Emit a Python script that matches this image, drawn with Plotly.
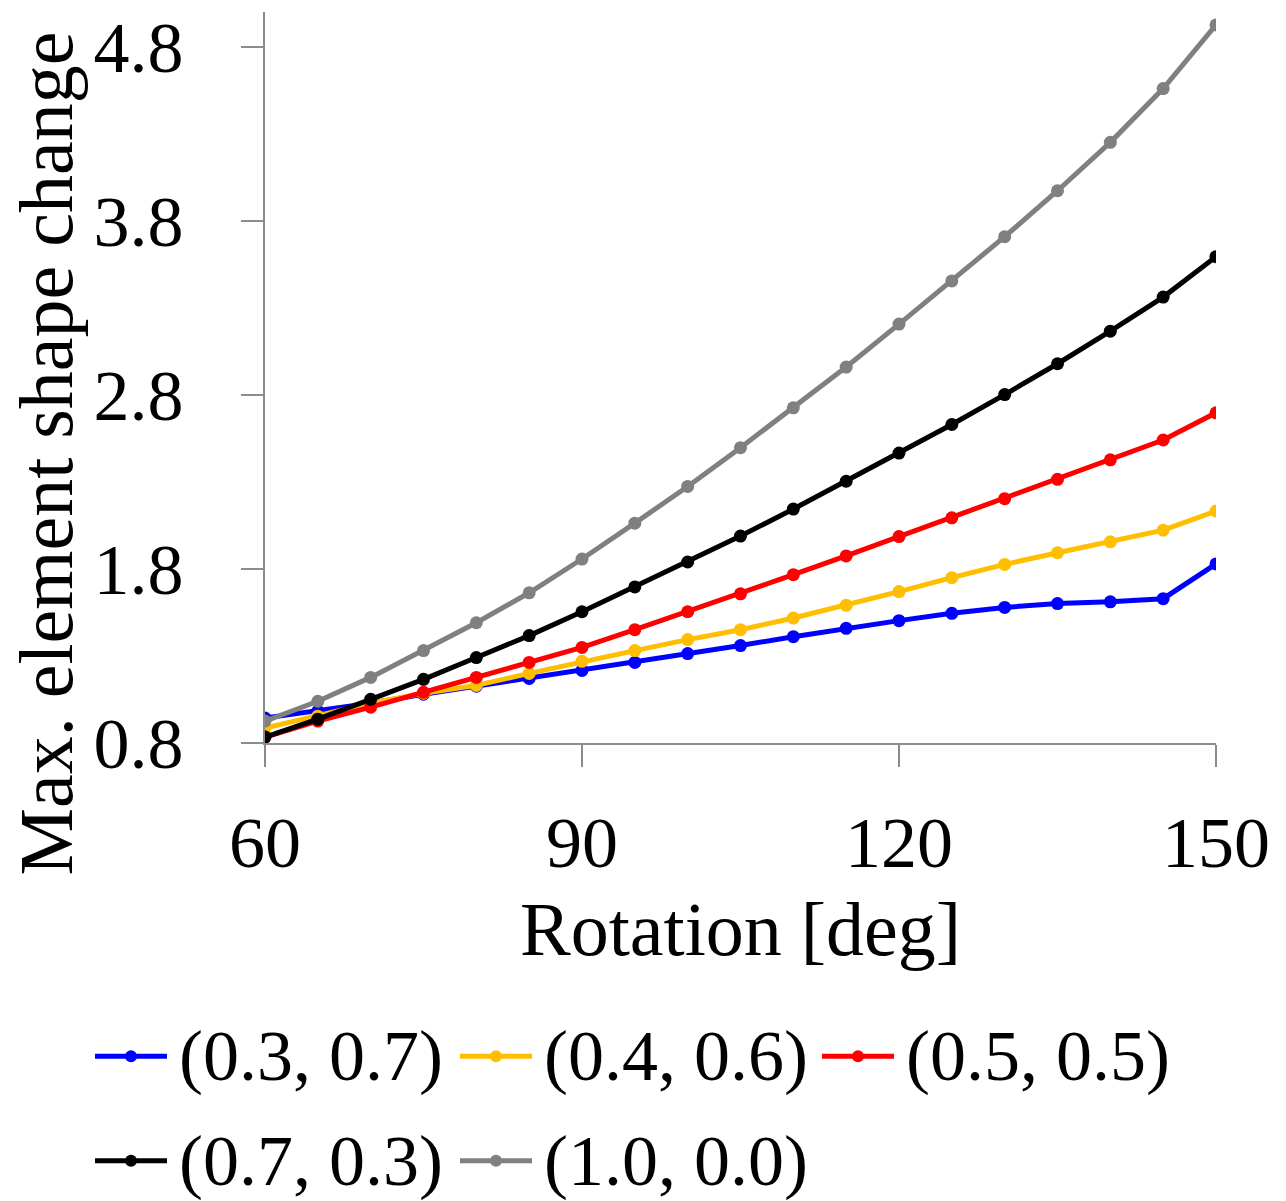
import plotly.graph_objects as go

# Rotation angle (degrees)
rotation = [60, 65, 70, 75, 80, 85, 90, 95, 100, 105, 110, 115, 120, 125, 130, 135, 140, 145, 150]

# Max. element shape change for each weighting pair
shape_03_07 = [0.943, 0.983, 1.029, 1.080, 1.126, 1.171, 1.217, 1.263, 1.314, 1.360,
               1.411, 1.459, 1.503, 1.545, 1.579, 1.601, 1.611, 1.629, 1.829]
shape_04_06 = [0.886, 0.954, 1.029, 1.086, 1.131, 1.200, 1.269, 1.331, 1.394, 1.451,
               1.518, 1.591, 1.670, 1.750, 1.826, 1.893, 1.956, 2.023, 2.133]
shape_05_05 = [0.834, 0.926, 1.006, 1.091, 1.177, 1.263, 1.349, 1.451, 1.554, 1.657,
               1.767, 1.875, 1.986, 2.094, 2.204, 2.315, 2.427, 2.541, 2.697]
shape_07_03 = [0.834, 0.937, 1.051, 1.166, 1.291, 1.417, 1.554, 1.697, 1.840, 1.989,
               2.144, 2.304, 2.466, 2.630, 2.802, 2.979, 3.166, 3.362, 3.594]
shape_10_00 = [0.926, 1.040, 1.177, 1.331, 1.491, 1.663, 1.857, 2.063, 2.274, 2.497,
               2.726, 2.960, 3.207, 3.455, 3.709, 3.973, 4.251, 4.560, 4.926]

series_names = ["(0.3, 0.7)", "(0.4, 0.6)", "(0.5, 0.5)", "(0.7, 0.3)", "(1.0, 0.0)"]
series_values = [shape_03_07, shape_04_06, shape_05_05, shape_07_03, shape_10_00]
series_colors = ["#0000ff", "#ffbf00", "#ff0000", "#000000", "#808080"]

x_ticks = [60, 90, 120, 150]
y_ticks = [0.8, 1.8, 2.8, 3.8, 4.8]
y_tick_text = ["0.8", "1.8", "2.8", "3.8", "4.8"]

FONT = "Liberation Serif"
AXIS_GREY = "#8c8c8c"

W, H = 1286, 1201
ML, MR, MT, MB = 265, 70, 8, 458
PW, PH = W - ML - MR, H - MT - MB

fig = go.Figure()
for name, vals, col in zip(series_names, series_values, series_colors):
    fig.add_trace(go.Scatter(
        x=rotation, y=vals, name=name, mode="lines+markers",
        line=dict(color=col, width=5),
        marker=dict(color=col, size=13),
        showlegend=False,
    ))


def px_to_paper(px, py):
    return (px - ML) / PW, (H - MB - py) / PH


# Two-row legend beneath the axes
shapes = []
annotations = []
col_x = [95, 460, 822]
row_y = [1058, 1163]
seg_len = 72
for i, (name, col) in enumerate(zip(series_names, series_colors)):
    lx = col_x[i % 3]
    ly = row_y[i // 3]
    x0, y0 = px_to_paper(lx, ly)
    x1, _ = px_to_paper(lx + seg_len, ly)
    xm, _ = px_to_paper(lx + seg_len / 2, ly)
    shapes.append(dict(type="line", xref="paper", yref="paper",
                       x0=x0, x1=x1, y0=y0, y1=y0,
                       line=dict(color=col, width=5)))
    shapes.append(dict(type="circle", xref="paper", yref="paper",
                       xsizemode="pixel", ysizemode="pixel",
                       xanchor=xm, yanchor=y0,
                       x0=-6, x1=6, y0=-6, y1=6,
                       fillcolor=col, line=dict(width=0)))
    tx, _ = px_to_paper(lx + seg_len + 10, ly)
    annotations.append(dict(text=name, xref="paper", yref="paper",
                            x=tx, y=y0, xanchor="left", yanchor="middle",
                            showarrow=False,
                            font=dict(family=FONT, size=72, color="black")))

# Axis titles
tx, ty = px_to_paper(740, 930)
annotations.append(dict(text="Rotation [deg]", xref="paper", yref="paper",
                        x=tx, y=ty, xanchor="center", yanchor="middle",
                        showarrow=False,
                        font=dict(family=FONT, size=76, color="black")))
tx, ty = px_to_paper(46, 452)
annotations.append(dict(text="Max. element shape change", xref="paper", yref="paper",
                        x=tx, y=ty, xanchor="center", yanchor="middle",
                        textangle=-90, showarrow=False,
                        font=dict(family=FONT, size=76, color="black")))

fig.update_layout(
    width=W, height=H,
    margin=dict(l=ML, r=MR, t=MT, b=MB),
    paper_bgcolor="white", plot_bgcolor="white",
    font=dict(family=FONT, size=72, color="black"),
    shapes=shapes,
    annotations=annotations,
)
fig.update_xaxes(
    range=[60, 150], tickvals=x_ticks, ticks="outside", ticklen=22,
    tickwidth=2, tickcolor=AXIS_GREY, showline=True, linecolor=AXIS_GREY,
    linewidth=2, showgrid=False, zeroline=False, ticklabelstandoff=14,
    tickfont=dict(family=FONT, size=72, color="black"),
)
fig.update_yaxes(
    range=[0.8, 5.0], tickvals=y_ticks, ticktext=y_tick_text, ticks="outside",
    ticklen=22, tickwidth=2, tickcolor=AXIS_GREY, showline=True,
    linecolor=AXIS_GREY, linewidth=2, showgrid=False, zeroline=False,
    ticklabelstandoff=43,
    tickfont=dict(family=FONT, size=72, color="black"),
)

fig.write_html("out.html")
